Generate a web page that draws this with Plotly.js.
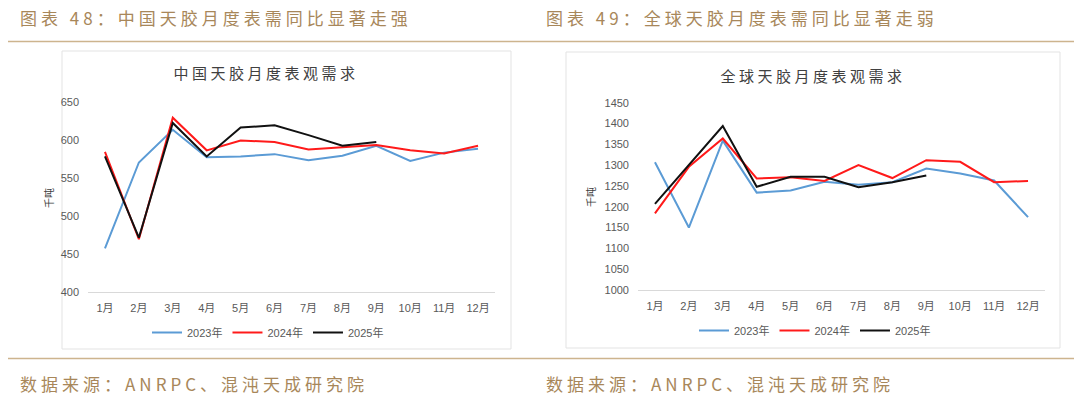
<!DOCTYPE html>
<html>
<head>
<meta charset="utf-8">
<script src="https://cdn.plot.ly/plotly-3.0.1.min.js"></script>
<style>
  html, body { margin: 0; padding: 0; background: #ffffff; }
  #chart { width: 1080px; height: 398px; }
  .annotation[data-index="0"] text, .annotation[data-index="1"] text,
  .annotation[data-index="2"] text, .annotation[data-index="3"] text { letter-spacing: 4px; }
  .annotation[data-index="4"] text, .annotation[data-index="5"] text { letter-spacing: 3.5px; }
</style>
</head>
<body>
<div id="chart"></div>
<script>
// ---- data ----
const months = ['1月','2月','3月','4月','5月','6月','7月','8月','9月','10月','11月','12月'];
const seriesNames = ['2023年','2024年','2025年'];
// China monthly apparent demand (千吨)
const cn2023 = [457, 570, 613, 577, 578, 581, 573, 579, 592, 572, 583, 588];
const cn2024 = [584, 469, 629, 586, 599, 597, 587, 590, 593, 586, 582, 592];
const cn2025 = [578, 471, 622, 578, 616, 619, 606, 592, 597];
// Global monthly apparent demand (千吨)
const gl2023 = [1307, 1150, 1359, 1234, 1239, 1260, 1253, 1259, 1292, 1280, 1263, 1175];
const gl2024 = [1184, 1296, 1364, 1268, 1271, 1262, 1300, 1269, 1312, 1308, 1259, 1262];
const gl2025 = [1207, 1300, 1394, 1248, 1272, 1272, 1247, 1259, 1275];
const cnTicks = [400, 450, 500, 550, 600, 650];
const glTicks = [1000, 1050, 1100, 1150, 1200, 1250, 1300, 1350, 1400, 1450];

// ---- texts ----
const header1 = '图表 48：中国天胶月度表需同比显著走强';
const header2 = '图表 49：全球天胶月度表需同比显著走弱';
const title1 = '中国天胶月度表观需求';
const title2 = '全球天胶月度表观需求';
const source = '数据来源：ANRPC、混沌天成研究院';
const unit = '千吨';

// ---- styling ----
const W = 1080, H = 398;
const px = x => x / W;
const py = y => 1 - y / H;
const colors = ['#5B9BD5', '#FF1A1A', '#111111'];
const gold = '#A8875A';
const goldLine = '#CDB48E';
const tickFont = {family: 'Liberation Sans, Arial, Noto Sans CJK SC, sans-serif', size: 11, color: '#595959'};
const cjk = 'Noto Sans CJK SC, sans-serif';

function mk(vals, i, xa, ya, lg) {
  return {
    type: 'scatter', mode: 'lines',
    x: months.slice(0, vals.length), y: vals,
    name: seriesNames[i],
    line: {color: colors[i], width: 2},
    xaxis: xa, yaxis: ya, legend: lg,
    hoverinfo: 'x+y+name'
  };
}

const data = [
  mk(cn2023, 0, 'x', 'y', 'legend'),
  mk(cn2024, 1, 'x', 'y', 'legend'),
  mk(cn2025, 2, 'x', 'y', 'legend'),
  mk(gl2023, 0, 'x2', 'y2', 'legend2'),
  mk(gl2024, 1, 'x2', 'y2', 'legend2'),
  mk(gl2025, 2, 'x2', 'y2', 'legend2')
];

const xCommon = {
  type: 'category', range: [-0.5, 11.5], fixedrange: true,
  showgrid: false, zeroline: false, showline: true, linecolor: '#D9D9D9', linewidth: 1,
  ticks: '', tickfont: tickFont, ticklabelstandoff: 6
};
const yCommon = {
  showgrid: false, zeroline: false, showline: false, ticks: '',
  tickfont: tickFont, ticklabelstandoff: 8, fixedrange: true
};

const legendCommon = {
  orientation: 'h', xanchor: 'center', yanchor: 'middle',
  font: {family: 'Liberation Sans, Arial, Noto Sans CJK SC, sans-serif', size: 11, color: '#595959'},
  bgcolor: 'rgba(0,0,0,0)', itemwidth: 30, tracegroupgap: 0
};

const layout = {
  width: W, height: H,
  margin: {l: 0, r: 0, t: 0, b: 0},
  paper_bgcolor: '#ffffff', plot_bgcolor: '#ffffff',
  showlegend: true,
  xaxis: Object.assign({}, xCommon, {domain: [px(88), px(495)], anchor: 'y'}),
  yaxis: Object.assign({}, yCommon, {domain: [py(291.7), py(101.7)], range: [400, 650], tickvals: cnTicks, anchor: 'x'}),
  xaxis2: Object.assign({}, xCommon, {domain: [px(638), px(1045)], anchor: 'y2'}),
  yaxis2: Object.assign({}, yCommon, {domain: [py(290), py(102.7)], range: [1000, 1450], tickvals: glTicks, anchor: 'x2'}),
  legend: Object.assign({}, legendCommon, {x: px(268), y: py(332.5)}),
  legend2: Object.assign({}, legendCommon, {x: px(815), y: py(330.5)}),
  shapes: [
    // header and footer rules
    {type: 'line', xref: 'paper', yref: 'paper', x0: px(8), x1: px(1074), y0: py(41.5), y1: py(41.5), line: {color: goldLine, width: 1.5}},
    {type: 'line', xref: 'paper', yref: 'paper', x0: px(8), x1: px(1074), y0: py(358.5), y1: py(358.5), line: {color: goldLine, width: 1.5}},
    // chart frames
    {type: 'rect', xref: 'paper', yref: 'paper', x0: px(62), x1: px(511), y0: py(349), y1: py(51), line: {color: '#E3E3E3', width: 1}, layer: 'below'},
    {type: 'rect', xref: 'paper', yref: 'paper', x0: px(566), x1: px(1060), y0: py(348), y1: py(52), line: {color: '#E3E3E3', width: 1}, layer: 'below'}
  ],
  annotations: [
    {text: header1, xref: 'paper', yref: 'paper', x: px(216), y: py(18), xanchor: 'center', yanchor: 'middle', showarrow: false,
     font: {family: cjk, size: 17, color: gold}},
    {text: header2, xref: 'paper', yref: 'paper', x: px(742), y: py(18), xanchor: 'center', yanchor: 'middle', showarrow: false,
     font: {family: cjk, size: 17, color: gold}},
    {text: source, xref: 'paper', yref: 'paper', x: px(194), y: py(383), xanchor: 'center', yanchor: 'middle', showarrow: false,
     font: {family: cjk, size: 17, color: gold}},
    {text: source, xref: 'paper', yref: 'paper', x: px(720), y: py(383), xanchor: 'center', yanchor: 'middle', showarrow: false,
     font: {family: cjk, size: 17, color: gold}},
    {text: title1, xref: 'paper', yref: 'paper', x: px(266), y: py(73), xanchor: 'center', yanchor: 'middle', showarrow: false,
     font: {family: cjk, size: 15, color: '#404040'}},
    {text: title2, xref: 'paper', yref: 'paper', x: px(813), y: py(75), xanchor: 'center', yanchor: 'middle', showarrow: false,
     font: {family: cjk, size: 15, color: '#404040'}},
    {text: unit, xref: 'paper', yref: 'paper', x: px(48), y: py(198), xanchor: 'center', yanchor: 'middle', showarrow: false, textangle: -90,
     font: {family: cjk, size: 10, color: '#404040'}},
    {text: unit, xref: 'paper', yref: 'paper', x: px(590), y: py(197), xanchor: 'center', yanchor: 'middle', showarrow: false, textangle: -90,
     font: {family: cjk, size: 10, color: '#404040'}}
  ]
};

Plotly.newPlot('chart', data, layout, {displayModeBar: false, staticPlot: true});
</script>
</body>
</html>
